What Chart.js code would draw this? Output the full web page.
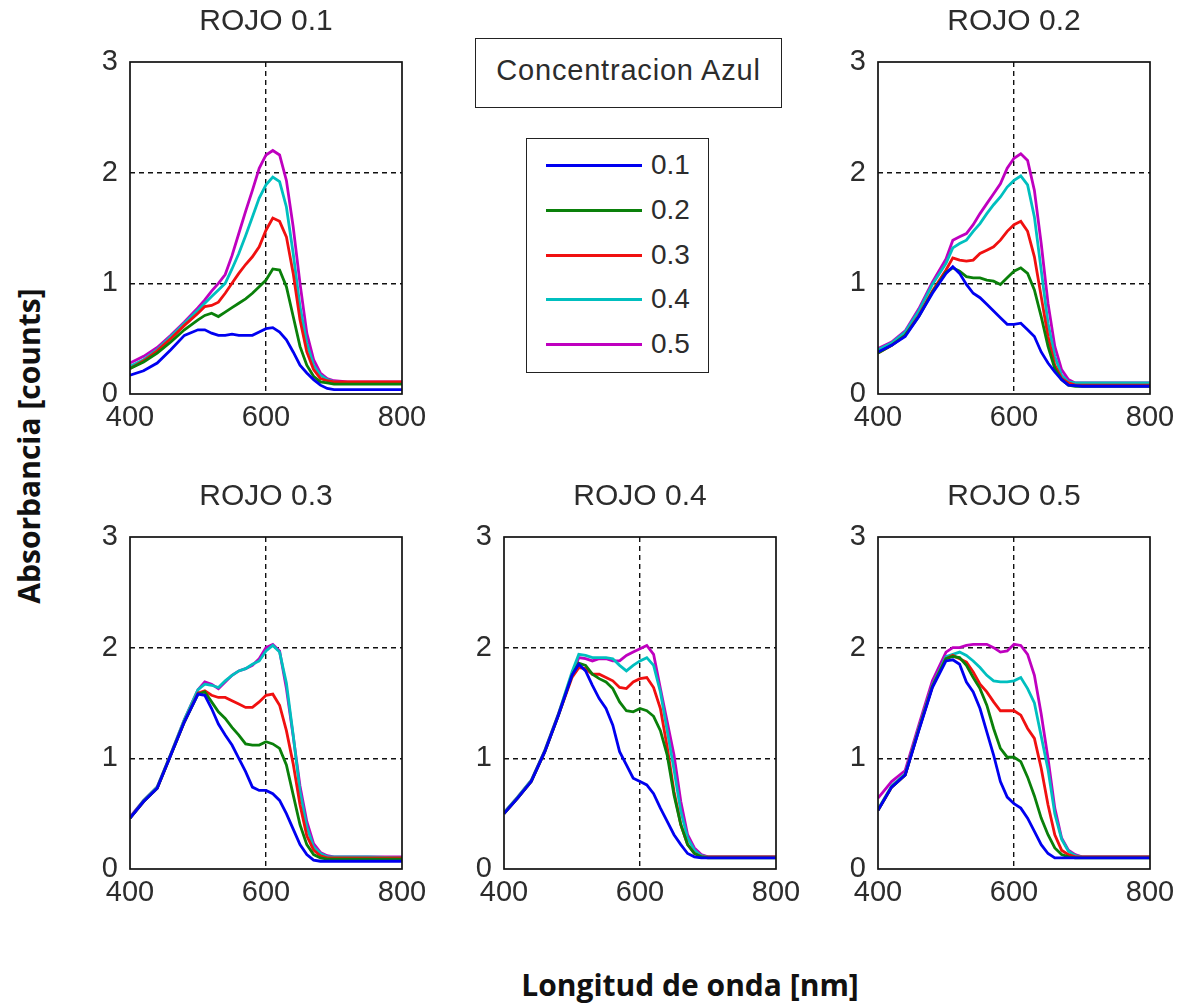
<!DOCTYPE html>
<html lang="es">
<head>
  <meta charset="UTF-8">
  <title>Absorbancia vs Longitud de onda</title>
  <script src="https://cdn.jsdelivr.net/npm/chart.js"></script>
  <style>
    body { margin: 0; background: #fff; width: 1184px; height: 1003px; position: relative; overflow: hidden;
           font-family: "Liberation Sans", Arial, sans-serif; color: #2c2c2c; }
    canvas { position: absolute; }
    .box { position: absolute; border: 1.5px solid #222; background: #fff; box-sizing: border-box; }
    .item { position: absolute; left: 0; height: 30px; }
    .item span.line { position: absolute; left: 19px; top: 14px; width: 96px; height: 3px; }
    .item span.txt { position: absolute; left: 124px; top: 0; font-size: 28px; line-height: 30px; }
    .axtitle { position: absolute; font-family: "Open Sans", sans-serif; font-weight: 700; font-size: 30px;
               color: #111; white-space: nowrap; transform: translate(-50%, -50%); }
  </style>
</head>
<body>

  <!-- panels: 50px scale box each side so the title sits over the axes -->
  <canvas id="p1" width="372" height="437" style="left:80px; top:7px"></canvas>
  <canvas id="p2" width="372" height="437" style="left:828px; top:7px"></canvas>
  <canvas id="p3" width="372" height="437" style="left:80px; top:482px"></canvas>
  <canvas id="p4" width="372" height="437" style="left:454px; top:482px"></canvas>
  <canvas id="p5" width="372" height="437" style="left:828px; top:482px"></canvas>

  <!-- legend -->
  <div class="box" style="left:475px; top:38px; width:307px; height:70px; font-size:29px; letter-spacing:0.8px; text-align:center; line-height:62px;">Concentracion Azul</div>
  <div class="box" id="legend" style="left:526px; top:138px; width:183px; height:235px;"></div>

  <div class="axtitle" style="left:28px; top:446px; transform: translate(-50%, -50%) rotate(-90deg);">Absorbancia [counts]</div>
  <div class="axtitle" style="left:690px; top:984px;">Longitud de onda [nm]</div>

  <script>
// wavelength grid (nm)
const wavelengths = [400, 420, 440, 460, 480, 500, 510, 520, 530, 540, 550, 560, 570, 580, 590,
                     600, 610, 620, 630, 640, 650, 660, 670, 680, 690, 700, 720, 750, 800];

const azulLabels = ['0.1', '0.2', '0.3', '0.4', '0.5'];
const colors = ['#0000f0', '#0a800a', '#f01010', '#00bfbf', '#bf00bf'];

const xTicks = [400, 600, 800];
const yTicks = [0, 1, 2, 3];

// ROJO 0.1
const rojo01_b = [.17,.21,.28,.40,.53,.58,.58,.55,.53,.53,.54,.53,.53,.53,.56,.59,.60,.56,.49,.38,.26,.19,.13,.08,.05,.04,.04,.04,.04];
const rojo01_g = [.23,.29,.37,.47,.58,.67,.71,.73,.70,.74,.78,.82,.86,.91,.97,1.03,1.13,1.12,.97,.70,.43,.26,.16,.11,.10,.09,.09,.09,.09];
const rojo01_r = [.23,.30,.39,.50,.62,.73,.79,.80,.83,.91,1.00,1.09,1.17,1.24,1.33,1.48,1.59,1.56,1.42,1.09,.67,.38,.22,.14,.12,.11,.11,.11,.11];
const rojo01_c = [.25,.31,.40,.52,.64,.76,.82,.88,.94,1.00,1.13,1.27,1.43,1.60,1.77,1.89,1.96,1.92,1.69,1.27,.79,.46,.26,.17,.13,.11,.10,.10,.10];
const rojo01_m = [.28,.34,.42,.53,.65,.78,.85,.93,1.00,1.08,1.25,1.45,1.65,1.84,2.04,2.16,2.20,2.16,1.93,1.51,1.00,.55,.31,.19,.14,.12,.11,.11,.11];

// ROJO 0.2
const rojo02_b = [.38,.44,.52,.70,.91,1.09,1.15,1.09,.99,.91,.87,.81,.75,.69,.63,.63,.64,.58,.52,.38,.28,.20,.13,.08,.075,.07,.07,.07,.07];
const rojo02_g = [.37,.44,.53,.70,.92,1.10,1.14,1.11,1.06,1.05,1.05,1.03,1.02,.99,1.05,1.11,1.14,1.09,.94,.70,.43,.23,.13,.08,.07,.07,.07,.07,.07];
const rojo02_r = [.37,.44,.53,.71,.93,1.12,1.23,1.21,1.20,1.21,1.27,1.30,1.33,1.39,1.47,1.53,1.56,1.47,1.24,.88,.52,.26,.14,.10,.08,.08,.08,.08,.08];
const rojo02_c = [.40,.46,.56,.75,.99,1.18,1.32,1.36,1.39,1.47,1.54,1.63,1.71,1.78,1.87,1.93,1.97,1.89,1.60,1.12,.64,.34,.17,.11,.10,.10,.10,.10,.10];
const rojo02_m = [.41,.47,.57,.77,1.01,1.22,1.39,1.42,1.45,1.53,1.63,1.72,1.81,1.90,2.04,2.13,2.17,2.11,1.84,1.36,.82,.43,.22,.13,.10,.10,.10,.10,.10];

// ROJO 0.3
const rojo03_b = [.46,.61,.73,1.03,1.33,1.58,1.57,1.45,1.31,1.21,1.12,1.00,.88,.74,.71,.71,.68,.62,.50,.36,.22,.13,.08,.07,.07,.07,.07,.07,.07];
const rojo03_g = [.46,.61,.73,1.03,1.33,1.58,1.60,1.51,1.42,1.36,1.28,1.21,1.13,1.12,1.12,1.15,1.13,1.09,.94,.67,.40,.22,.13,.10,.09,.09,.09,.09,.09];
const rojo03_r = [.46,.61,.73,1.03,1.33,1.59,1.61,1.57,1.55,1.55,1.52,1.49,1.46,1.46,1.51,1.57,1.58,1.48,1.25,.95,.58,.30,.17,.12,.10,.10,.10,.10,.10];
const rojo03_c = [.46,.62,.74,1.04,1.35,1.62,1.67,1.66,1.64,1.70,1.75,1.79,1.81,1.85,1.88,1.97,2.02,1.96,1.68,1.21,.70,.38,.20,.14,.11,.11,.11,.11,.10];
const rojo03_m = [.47,.62,.74,1.04,1.35,1.62,1.69,1.67,1.63,1.69,1.75,1.79,1.81,1.84,1.90,2.00,2.03,1.97,1.63,1.20,.75,.43,.23,.15,.12,.11,.11,.11,.11];

// ROJO 0.4
const rojo04_b = [.50,.64,.79,1.06,1.39,1.75,1.85,1.79,1.66,1.54,1.45,1.30,1.06,.94,.82,.79,.76,.68,.55,.43,.31,.22,.14,.11,.10,.10,.10,.10,.10];
const rojo04_g = [.50,.64,.79,1.06,1.39,1.75,1.86,1.84,1.76,1.72,1.69,1.63,1.51,1.43,1.42,1.45,1.43,1.38,1.25,1.03,.67,.40,.22,.14,.11,.10,.10,.10,.10];
const rojo04_r = [.50,.64,.79,1.06,1.39,1.73,1.82,1.81,1.76,1.76,1.73,1.70,1.64,1.63,1.69,1.72,1.73,1.64,1.45,1.10,.70,.40,.22,.14,.11,.11,.11,.11,.11];
const rojo04_c = [.51,.65,.80,1.07,1.40,1.78,1.94,1.93,1.91,1.91,1.91,1.90,1.84,1.79,1.84,1.88,1.91,1.84,1.60,1.25,.90,.52,.28,.17,.12,.11,.11,.11,.11];
const rojo04_m = [.51,.65,.80,1.07,1.40,1.76,1.91,1.90,1.88,1.90,1.90,1.88,1.88,1.93,1.96,1.99,2.02,1.94,1.63,1.33,1.03,.61,.31,.19,.13,.11,.11,.11,.11];

// ROJO 0.5
const rojo05_b = [.53,.74,.85,1.25,1.64,1.88,1.89,1.85,1.69,1.60,1.45,1.24,1.03,.79,.65,.59,.55,.46,.34,.22,.14,.10,.10,.10,.10,.10,.10,.10,.10];
const rojo05_g = [.53,.74,.85,1.26,1.65,1.90,1.92,1.91,1.84,1.73,1.63,1.48,1.27,1.09,1.01,1.01,.97,.83,.66,.46,.31,.19,.13,.11,.10,.10,.10,.10,.10];
const rojo05_r = [.53,.74,.85,1.26,1.65,1.90,1.93,1.90,1.87,1.78,1.67,1.60,1.51,1.43,1.43,1.43,1.39,1.27,1.18,.91,.58,.31,.17,.13,.11,.11,.11,.11,.11];
const rojo05_c = [.54,.75,.86,1.27,1.66,1.92,1.94,1.96,1.93,1.88,1.82,1.75,1.70,1.69,1.69,1.70,1.73,1.63,1.50,1.20,.90,.50,.27,.16,.12,.11,.11,.11,.11];
const rojo05_m = [.64,.79,.89,1.30,1.70,1.96,2.00,2.00,2.02,2.03,2.03,2.03,2.00,1.96,1.97,2.03,2.02,1.94,1.75,1.40,1.00,.55,.28,.17,.13,.11,.11,.11,.11];

const panels = [
  { id: 'p1', title: 'ROJO 0.1', series: [rojo01_b, rojo01_g, rojo01_r, rojo01_c, rojo01_m] },
  { id: 'p2', title: 'ROJO 0.2', series: [rojo02_b, rojo02_g, rojo02_r, rojo02_c, rojo02_m] },
  { id: 'p3', title: 'ROJO 0.3', series: [rojo03_b, rojo03_g, rojo03_r, rojo03_c, rojo03_m] },
  { id: 'p4', title: 'ROJO 0.4', series: [rojo04_b, rojo04_g, rojo04_r, rojo04_c, rojo04_m] },
  { id: 'p5', title: 'ROJO 0.5', series: [rojo05_b, rojo05_g, rojo05_r, rojo05_c, rojo05_m] }
];

const textColor = '#2c2c2c';
const fontFam = '"Liberation Sans", Arial, sans-serif';

// box around the axes, like matlab
const framePlugin = {
  id: 'frame',
  afterDraw(chart) {
    const { ctx, chartArea: a } = chart;
    ctx.save();
    ctx.strokeStyle = '#111';
    ctx.lineWidth = 1.7;
    ctx.strokeRect(a.left, a.top, a.right - a.left, a.bottom - a.top);
    ctx.restore();
  }
};

function dashedAt(values) {
  return ctx => (ctx.tick && values.includes(ctx.tick.value)) ? '#111' : 'rgba(0,0,0,0)';
}

panels.forEach(p => {
  new Chart(document.getElementById(p.id), {
    type: 'line',
    data: {
      datasets: p.series.map((vals, i) => ({
        label: azulLabels[i],
        data: vals.map((v, k) => ({ x: wavelengths[k], y: v })),
        borderColor: colors[i],
        borderWidth: 2.8,
        pointRadius: 0,
        tension: 0,
        fill: false
      }))
    },
    options: {
      responsive: false,
      animation: false,
      layout: { padding: 0 },
      plugins: {
        legend: { display: false },
        tooltip: { enabled: false },
        title: {
          display: true, text: p.title, color: textColor,
          font: { family: fontFam, size: 30, weight: 'normal', lineHeight: 1 },
          padding: { top: 0, bottom: 25 }
        }
      },
      scales: {
        x: {
          type: 'linear', min: 400, max: 800,
          afterBuildTicks: s => { s.ticks = xTicks.map(v => ({ value: v })); },
          afterFit: s => { s.height = 50; },
          ticks: { color: textColor, font: { family: fontFam, size: 29 }, padding: 7, maxRotation: 0 },
          grid: { drawTicks: false, color: dashedAt([600]), lineWidth: 1.4 },
          border: { display: false, dash: [5, 4] }
        },
        y: {
          min: 0, max: 3,
          afterBuildTicks: s => { s.ticks = yTicks.map(v => ({ value: v })); },
          afterFit: s => { s.width = 50; },
          ticks: { color: textColor, font: { family: fontFam, size: 29 }, padding: 12 },
          grid: { drawTicks: false, color: dashedAt([1, 2]), lineWidth: 1.4 },
          border: { display: false, dash: [5, 4] }
        },
        // empty right box, same width as the left one
        yRight: {
          position: 'right', display: true, min: 0, max: 1,
          afterFit: s => { s.width = 50; },
          ticks: { display: false },
          grid: { display: false },
          border: { display: false }
        }
      }
    },
    plugins: [framePlugin]
  });
});

// legend box
const legend = document.getElementById('legend');
azulLabels.forEach((lab, i) => {
  const row = document.createElement('div');
  row.className = 'item';
  row.style.top = (11 + i * 44.8) + 'px';
  row.innerHTML = '<span class="line" style="background:' + colors[i] + '"></span><span class="txt">' + lab + '</span>';
  legend.appendChild(row);
});
  </script>
</body>
</html>
